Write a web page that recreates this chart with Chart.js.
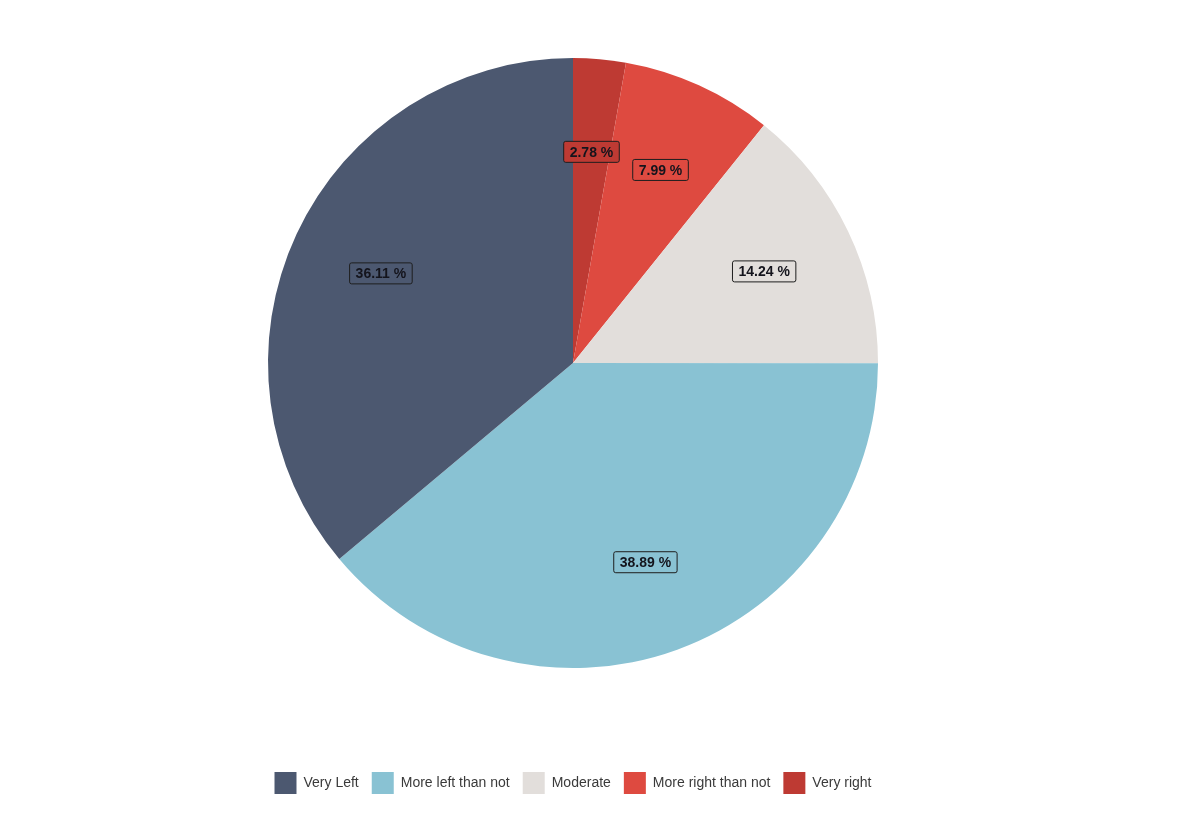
<!DOCTYPE html>
<html>
<head>
<meta charset="utf-8">
<title>Political leaning</title>
<script src="https://cdn.jsdelivr.net/npm/chart.js@4/dist/chart.umd.min.js"></script>
<style>
  html, body { margin: 0; padding: 0; background: #ffffff; }
  #wrap { width: 1200px; height: 827px; position: relative; }
</style>
</head>
<body>
<div id="wrap"><canvas id="pie"></canvas></div>
<script>
// legend order (ggplot order)
const categories = ['Very Left', 'More left than not', 'Moderate', 'More right than not', 'Very right'];
const shares = [36.11, 38.89, 14.24, 7.99, 2.78];
const colours = ['#4c5870', '#89c2d3', '#e2dedb', '#de4a40', '#be3a33'];

// the pie is drawn clockwise from 12 o'clock starting with "Very right"
const drawLabels = categories.slice().reverse();
const drawValues = shares.slice().reverse();
const drawColours = colours.slice().reverse();

const sliceLabels = {
  id: 'sliceLabels',
  afterDatasetsDraw(chart) {
    const ctx = chart.ctx;
    const meta = chart.getDatasetMeta(0);
    ctx.save();
    ctx.font = 'bold 14px "Liberation Sans", Arial, sans-serif';
    ctx.textAlign = 'center';
    ctx.textBaseline = 'middle';
    meta.data.forEach((arc, i) => {
      const p = arc.getProps(['x', 'y', 'startAngle', 'endAngle', 'outerRadius'], true);
      const mid = (p.startAngle + p.endAngle) / 2;
      const r = p.outerRadius * 0.695;
      const x = p.x + Math.cos(mid) * r;
      const y = p.y + Math.sin(mid) * r;
      const text = drawValues[i].toFixed(2) + ' %';
      const w = ctx.measureText(text).width + 12;
      const h = 21;
      ctx.beginPath();
      ctx.roundRect(x - w / 2, y - h / 2, w, h, 2);
      ctx.fillStyle = drawColours[i];
      ctx.fill();
      ctx.lineWidth = 1;
      ctx.strokeStyle = '#1e1e1e';
      ctx.stroke();
      ctx.fillStyle = '#14141c';
      ctx.fillText(text, x, y + 1);
    });
    ctx.restore();
  },
};

new Chart(document.getElementById('pie'), {
  type: 'pie',
  data: {
    labels: drawLabels,
    datasets: [{
      data: drawValues,
      backgroundColor: drawColours,
      borderWidth: 0,
      hoverOffset: 0,
    }],
  },
  options: {
    responsive: true,
    maintainAspectRatio: false,
    animation: false,
    layout: { padding: { top: 58, left: 0, right: 54, bottom: 23 } },
    plugins: {
      tooltip: { enabled: false },
      legend: {
        position: 'bottom',
        reverse: true,
        title: { display: true, text: ' ', font: { size: 10, lineHeight: 1 }, padding: { top: 81, bottom: 0 } },
        labels: {
          boxWidth: 22,
          boxHeight: 22,
          padding: 13,
          color: '#3a3a3a',
          font: { family: '"Liberation Sans", Arial, sans-serif', size: 14 },
        },
      },
    },
  },
  plugins: [sliceLabels],
});
</script>
</body>
</html>
